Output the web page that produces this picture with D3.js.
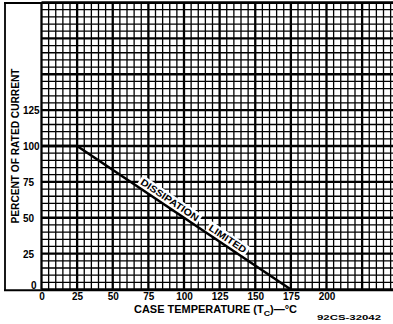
<!DOCTYPE html>
<html>
<head>
<meta charset="utf-8">
<script src="https://cdn.jsdelivr.net/npm/d3@7"></script>
<style>
  html, body { margin: 0; padding: 0; background: #fff; }
  svg { display: block; }
  text { font-family: "Liberation Sans", Arial, sans-serif; font-weight: bold; fill: #000; }
</style>
</head>
<body>
<svg id="chart" width="393" height="324"></svg>
<script>
// ---- data ----
const xTicks = [0, 25, 50, 75, 100, 125, 150, 175, 200];
const yTicks = [0, 25, 50, 75, 100, 125];
const curveTemp = [0, 25, 175];
const curvePct = [100, 100, 0];
const lineLabels = ["DISSIPATION", "LIMITED"];
const lineLabelTemps = [67.5, 115.5];
const xTitle = ["CASE TEMPERATURE (T", "C", ")—°C"];
const yTitle = "PERCENT OF RATED CURRENT";
const stamp = "92CS-32042";

// ---- layout ----
const W = 393, H = 324;
const plotLeft = 41.5, plotRight = 393, plotTop = 2.5, plotBottom = 289.5;
const x = d3.scaleLinear().domain([0, 200]).range([plotLeft, plotLeft + 285]);
const y = d3.scaleLinear().domain([0, 200]).range([plotBottom, plotTop]);
const xMaxGrid = x.invert(plotRight);

const svg = d3.select("#chart");
svg.append("rect").attr("width", W).attr("height", H).attr("fill", "#fff");

// ---- grid ----
const grid = svg.append("g");
const vLines = d3.range(0, xMaxGrid + 0.01, 5);
const hLines = d3.range(0, 200.01, 5);
grid.selectAll("line.v").data(vLines).join("line")
  .attr("x1", d => x(d)).attr("x2", d => x(d))
  .attr("y1", y(200)).attr("y2", y(0))
  .attr("stroke", "#000")
  .attr("stroke-width", d => d % 25 === 0 ? 2.3 : 1.3);
grid.selectAll("line.h").data(hLines).join("line")
  .attr("x1", x(0)).attr("x2", plotRight)
  .attr("y1", d => y(d)).attr("y2", d => y(d))
  .attr("stroke", "#000")
  .attr("stroke-width", d => d % 25 === 0 ? 2.3 : 1.3);

// ---- frame ----
svg.append("line").attr("x1", 5).attr("x2", 5).attr("y1", 3).attr("y2", 291)
  .attr("stroke", "#000").attr("stroke-width", 1.8);
svg.append("line").attr("x1", 4).attr("x2", W).attr("y1", 3).attr("y2", 3)
  .attr("stroke", "#000").attr("stroke-width", 1.8);
svg.append("line").attr("x1", 4).attr("x2", W).attr("y1", 290.3).attr("y2", 290.3)
  .attr("stroke", "#000").attr("stroke-width", 2);

// ---- curve ----
const pts = curveTemp.map((t, i) => [t, curvePct[i]]);
const p0 = [x(25), y(100)], p1 = [x(175), y(0)];
const ang = Math.atan2(p1[1] - p0[1], p1[0] - p0[0]) * 180 / Math.PI;
const pctAt = t => t <= 25 ? 100 : 100 - (t - 25) * 100 / 150;

const labelLens = [68, 43];
const capH = 7, off = 3.6, pad = 2;
lineLabels.forEach((lab, i) => {
  const t = lineLabelTemps[i];
  const g = svg.append("g")
    .attr("transform", `translate(${x(t)},${y(pctAt(t))}) rotate(${ang})`);
  g.append("rect")
    .attr("x", -pad).attr("y", -(off + capH + pad))
    .attr("width", labelLens[i] + 2 * pad).attr("height", off + capH + pad)
    .attr("fill", "#fff");
  g.append("text")
    .attr("x", 0).attr("y", -off)
    .attr("font-size", 9.5)
    .attr("textLength", labelLens[i]).attr("lengthAdjust", "spacingAndGlyphs")
    .text(lab);
});

svg.append("path")
  .datum(pts)
  .attr("d", d3.line().x(d => x(d[0])).y(d => y(d[1])))
  .attr("fill", "none").attr("stroke", "#000").attr("stroke-width", 2.6);

// ---- axes labels ----
const xAxis = d3.axisBottom(x).tickValues(xTicks).tickSize(0).tickPadding(0)
  .tickFormat(d3.format("d"));
const xg = svg.append("g").attr("transform", `translate(0,${plotBottom})`).call(xAxis);
xg.select(".domain").remove();
xg.selectAll("text")
  .attr("font-size", 10).attr("font-family", null)
  .attr("dy", null).attr("y", 10.5);

const yAxis = d3.axisLeft(y).tickValues(yTicks).tickSize(0).tickPadding(0)
  .tickFormat(d3.format("d"));
const yg = svg.append("g").attr("transform", `translate(0,0)`).call(yAxis);
yg.select(".domain").remove();
yg.selectAll("text")
  .attr("font-size", 10).attr("font-family", null)
  .attr("text-anchor", "start")
  .attr("x", d => d === 0 ? 31 : 23)
  .attr("dy", d => d === 0 ? "-0.12em" : "0.35em");

// ---- titles ----
const xt = svg.append("text").attr("x", 134).attr("y", 313).attr("font-size", 10)
  .attr("textLength", 163).attr("lengthAdjust", "spacingAndGlyphs");
xt.append("tspan").text(xTitle[0]);
xt.append("tspan").attr("font-size", 8).attr("dy", 3).text(xTitle[1]);
xt.append("tspan").attr("dy", -3).text(xTitle[2]);

svg.append("text")
  .attr("transform", "translate(18.5,146) rotate(-90)")
  .attr("text-anchor", "middle").attr("font-size", 10)
  .attr("textLength", 155).attr("lengthAdjust", "spacingAndGlyphs")
  .text(yTitle);

svg.append("text").attr("x", 317).attr("y", 320).attr("font-size", 8)
  .attr("textLength", 64).attr("lengthAdjust", "spacingAndGlyphs")
  .text(stamp);
</script>
</body>
</html>
